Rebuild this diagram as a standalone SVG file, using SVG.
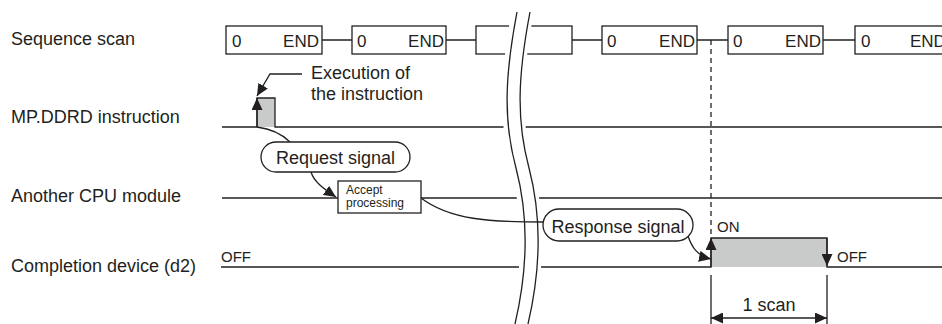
<svg xmlns="http://www.w3.org/2000/svg" width="942" height="324" viewBox="0 0 942 324">
<style>
text{font-family:"Liberation Sans",Arial,sans-serif;fill:#231f20}
.lbl{font-size:18px}
.bt{font-size:17px}
.sm{font-size:15px}
.tiny{font-size:12px}
.box{fill:#fff;stroke:#231f20;stroke-width:1.3}
.ln{fill:none;stroke:#231f20;stroke-width:1.3}
.pulse{fill:#c9caca;stroke:none}
.arr{fill:none;stroke:#231f20;stroke-width:1.3;marker-end:url(#ah)}
</style>
<defs>
<marker id="ah" markerUnits="userSpaceOnUse" markerWidth="12" markerHeight="11" refX="12" refY="5.5" orient="auto">
<path d="M0,0 L12,5.5 L0,11 z" fill="#231f20"/>
</marker>
</defs>

<g id="row-labels">
<text x="11" y="45" class="lbl">Sequence scan</text>
<text x="11" y="123" class="lbl">MP.DDRD instruction</text>
<text x="11" y="202" class="lbl">Another CPU module</text>
<text x="11" y="272" class="lbl">Completion device (d2)</text>
</g>

<g id="connectors">
<path class="ln" d="M322,40 H352 M446,40 H476 M572,40 H602 M697,40 H728 M823,40 H855"/>
<path class="ln" d="M222,198 H942"/>
</g>

<g id="scan1"><rect class="box" x="226" y="26" width="96" height="28"/><text class="bt" x="232" y="47">0</text><text class="bt" x="319" y="47" text-anchor="end">END</text></g>
<g id="scan2"><rect class="box" x="352" y="26" width="94" height="28"/><text class="bt" x="357" y="47">0</text><text class="bt" x="444" y="47" text-anchor="end">END</text></g>
<g id="scan3"><rect class="box" x="476" y="26" width="96" height="28"/></g>
<g id="scan4"><rect class="box" x="602" y="26" width="95" height="28"/><text class="bt" x="607" y="47">0</text><text class="bt" x="695" y="47" text-anchor="end">END</text></g>
<g id="scan5"><rect class="box" x="728" y="26" width="95" height="28"/><text class="bt" x="733" y="47">0</text><text class="bt" x="821" y="47" text-anchor="end">END</text></g>
<g id="scan6"><rect class="box" x="855" y="26" width="100" height="28"/><text class="bt" x="861" y="47">0</text><text class="bt" x="910" y="47">END</text></g>

<g id="mp-signal">
<rect class="pulse" x="257" y="98" width="18" height="29"/>
<path class="ln" d="M222,127 H257 V98 H275 V127 H942"/>
<path class="arr" d="M257,127 V98"/>
</g>

<g id="completion-signal">
<rect class="pulse" x="711" y="238" width="116" height="29"/>
<path class="ln" d="M221,267 H711 V238 H827 V267 H942"/>
<path class="arr" d="M711,267 V238"/>
<path class="arr" d="M827,238 V266"/>
<text class="sm" x="221" y="262">OFF</text>
<text class="sm" x="717" y="232">ON</text>
<text class="sm" x="837" y="262">OFF</text>
</g>

<g id="break">
<path d="M523,10 C511,75 509,120 522,168 C533,210 536,260 521,326" fill="none" stroke="#fff" stroke-width="22"/>
<path class="ln" d="M517,12 C505,75 503,120 516,168 C527,210 530,260 515,324"/>
<path class="ln" d="M530,12 C518,75 516,120 529,168 C540,210 543,260 528,324"/>
</g>

<g id="links">
<path class="ln" d="M711,40 V238" stroke-dasharray="5,4"/>
<path class="arr" d="M302,74 H270 L257,96"/>
<path class="ln" d="M257,127 C272,129 283,135 290,142"/>
<path class="arr" d="M311,172 C314,182 324,189 336,197"/>
<path class="ln" d="M421,198 C450,220 490,222 543,222"/>
<path class="arr" d="M688,236 C692,248 698,256 711,259"/>
<path class="ln" d="M711,275 V324 M827,275 V324"/>
<path class="arr" d="M769,318 H711"/>
<path class="arr" d="M769,318 H827"/>
</g>

<g id="execution-note">
<text class="lbl" x="311" y="79">Execution of</text>
<text class="lbl" x="311" y="100">the instruction</text>
</g>

<g id="request-signal">
<rect class="box" x="261" y="142" width="149" height="30" rx="15"/>
<text class="lbl" x="335.5" y="164" text-anchor="middle">Request signal</text>
</g>

<g id="accept-processing">
<rect class="box" x="338" y="181" width="83" height="32"/>
<text class="tiny" x="346" y="194">Accept</text>
<text class="tiny" x="346" y="207">processing</text>
</g>

<g id="response-signal">
<rect class="box" x="543" y="209" width="150" height="32" rx="16"/>
<text class="lbl" x="618" y="233" text-anchor="middle">Response signal</text>
</g>

<g id="scan-dimension">
<text class="lbl" x="769" y="311" text-anchor="middle">1 scan</text>
</g>
</svg>
